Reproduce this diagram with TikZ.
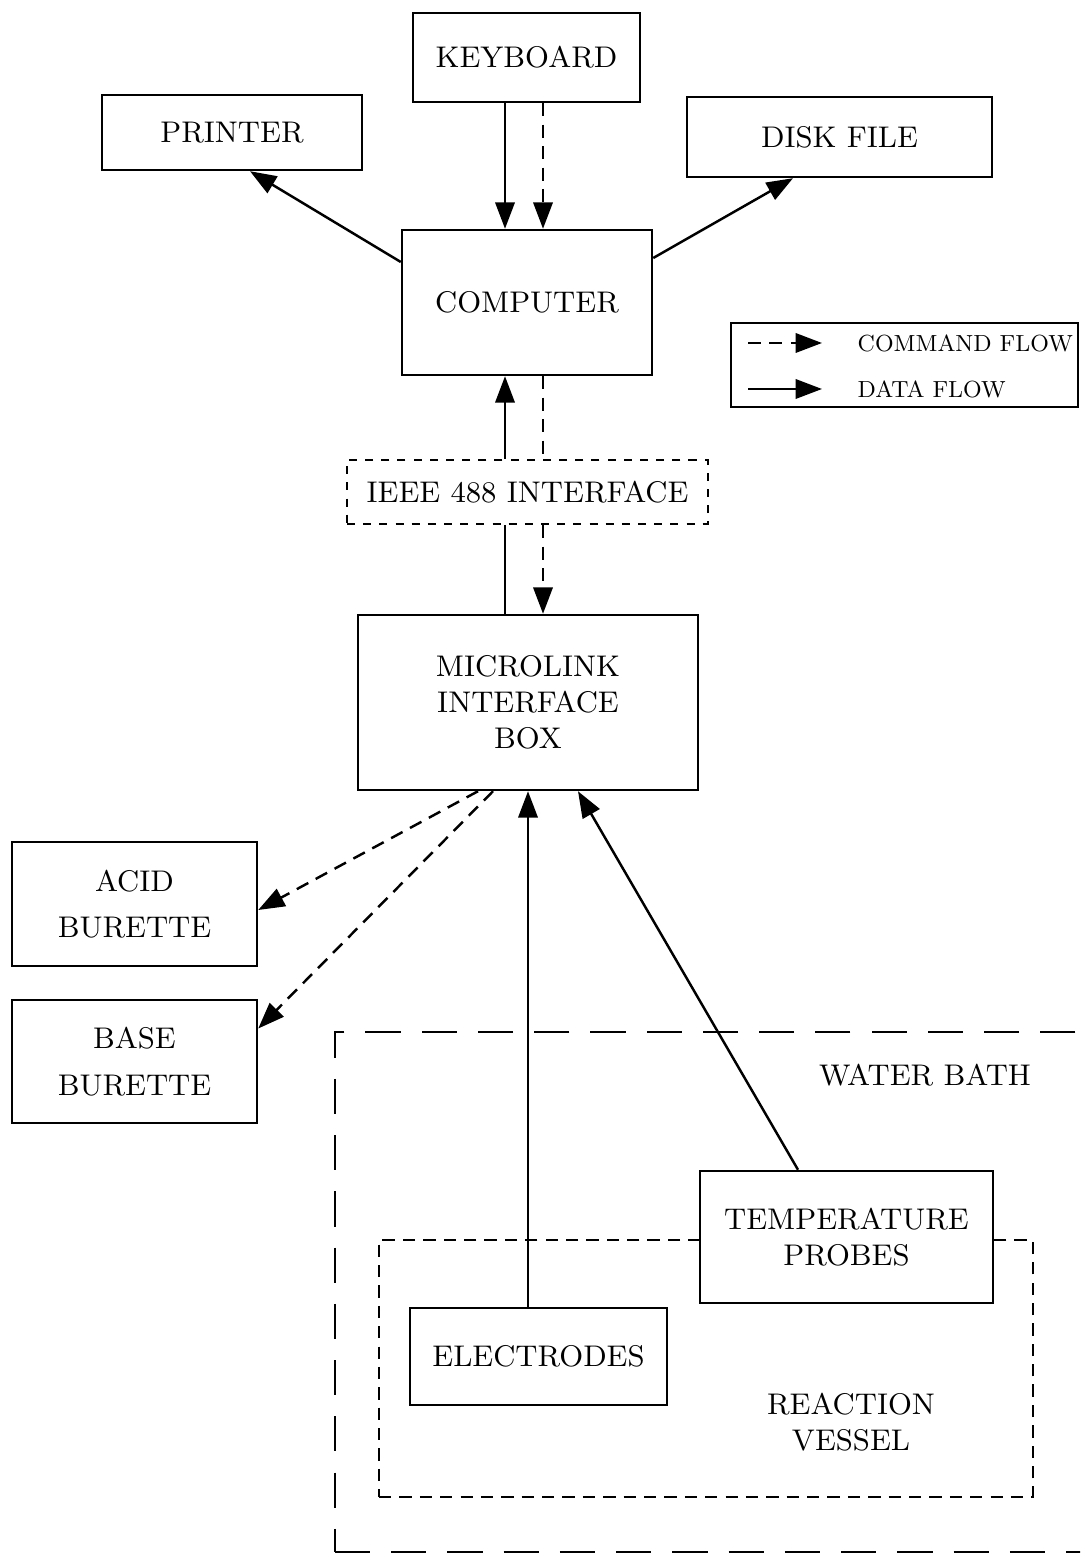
\documentclass[tikz,border=0pt]{standalone}
\usepackage{tikz}
\usetikzlibrary{arrows.meta}

\begin{document}
\begin{tikzpicture}[]

	\tikzstyle{every node}=[font=\fontsize{8.5}{10.2}\selectfont, align=center, inner sep=0pt]
	\tikzstyle{blk}=[draw, line width=0.7pt]
	\tikzstyle{data}=[line width=0.7pt, -{Triangle[length=7.5pt,width=5.5pt]}]
	\tikzstyle{cmd}=[data, dash pattern=on 3.7pt off 2.4pt]

	\clip (0,0) rectangle (10.8,-15.54);

	% water bath and reaction vessel
	\node[draw, line width=0.7pt, dash pattern=on 10pt off 6pt, minimum width=7.85cm, minimum height=5.2cm] (bath) at (7.275,-12.92) {};
	\node (bathtxt) at (9.25,-10.75) {WATER BATH};
	\node[draw, line width=0.7pt, dash pattern=on 3.5pt off 2.3pt, minimum width=6.54cm, minimum height=2.57cm] (vessel) at (7.06,-13.685) {};
	\node (vesseltxt) at (8.51,-14.22) {REACTION\\VESSEL};

	% boxes
	\node[blk, minimum width=2.27cm, minimum height=0.89cm] (kbd) at (5.265,-0.575) {KEYBOARD};
	\node[blk, minimum width=2.60cm, minimum height=0.75cm] (printer) at (2.32,-1.325) {PRINTER};
	\node[blk, minimum width=3.05cm, minimum height=0.80cm] (disk) at (8.395,-1.37) {DISK FILE};
	\node[blk, minimum width=2.50cm, minimum height=1.45cm] (comp) at (5.27,-3.025) {COMPUTER};
	\node[draw, line width=0.7pt, dash pattern=on 2.3pt off 2.3pt, minimum width=3.61cm, minimum height=0.64cm] (ieee) at (5.275,-4.92) {IEEE 488 INTERFACE};
	\node[blk, minimum width=3.40cm, minimum height=1.75cm] (mlink) at (5.28,-7.025) {MICROLINK\\INTERFACE\\BOX};
	\node[blk, minimum width=2.45cm, minimum height=1.24cm] (acid) at (1.345,-9.04) {ACID\\[3pt]BURETTE};
	\node[blk, minimum width=2.45cm, minimum height=1.23cm] (base) at (1.345,-10.615) {BASE\\[3pt]BURETTE};
	\node[blk, fill=white, minimum width=2.93cm, minimum height=1.32cm] (probes) at (8.465,-12.37) {TEMPERATURE\\PROBES};
	\node[blk, minimum width=2.57cm, minimum height=0.97cm] (elec) at (5.385,-13.565) {ELECTRODES};

	% legend
	\node[blk, minimum width=3.47cm, minimum height=0.84cm] (legend) at (9.045,-3.65) {};
	\coordinate (c1) at (7.48,-3.43);
	\coordinate (c2) at (8.22,-3.43);
	\coordinate (d1) at (7.48,-3.89);
	\coordinate (d2) at (8.22,-3.89);
	\draw[cmd] (c1) -- (c2);
	\draw[data] (d1) -- (d2);
	\node[anchor=west] (cmdtxt) at (8.57,-3.43) {\scalebox{0.78}{COMMAND FLOW}};
	\node[anchor=west] (datatxt) at (8.57,-3.89) {\scalebox{0.78}{DATA FLOW}};

	% keyboard and computer
	\draw[data] ([xshift=-0.215cm]kbd.south) -- ([xshift=-0.215cm]kbd.south |- comp.north);
	\draw[cmd] ([xshift=0.165cm]kbd.south) -- ([xshift=0.165cm]kbd.south |- comp.north);
	\draw[data] ([yshift=0.405cm]comp.west) -- ([xshift=0.18cm]printer.south);
	\draw[data] ([yshift=0.445cm]comp.east) -- ([xshift=-0.465cm]disk.south);

	% through the interface
	\draw[data] ([xshift=-0.22cm]ieee.north -| comp.south) -- ([xshift=-0.22cm]comp.south);
	\draw[line width=0.7pt, dash pattern=on 3.7pt off 2.4pt] ([xshift=0.16cm]comp.south) -- ([xshift=0.16cm]comp.south |- ieee.north);
	\draw[line width=0.7pt] ([xshift=-0.22cm]ieee.south -| comp.south) -- ([xshift=-0.22cm]mlink.north -| comp.south);
	\draw[cmd] ([xshift=0.16cm]ieee.south -| comp.south) -- ([xshift=0.16cm]mlink.north -| comp.south);

	% microlink connections
	\draw[cmd] ([xshift=-0.5cm]mlink.south) -- ([yshift=-0.06cm]acid.east);
	\draw[cmd] ([xshift=-0.35cm]mlink.south) -- ([yshift=0.33cm]base.east);
	\draw[data] ([xshift=-0.105cm]elec.north) -- ([xshift=-0.105cm]elec.north |- mlink.south);
	\draw[data] ([xshift=-0.485cm]probes.north) -- ([xshift=0.5cm]mlink.south);

\end{tikzpicture}
\end{document}
